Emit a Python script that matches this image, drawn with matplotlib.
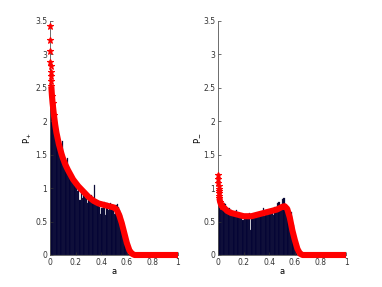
import numpy as np
import matplotlib
matplotlib.use("Agg")
import matplotlib.pyplot as plt

# histogram heights, bins of width 0.01 starting at a=0
bin_width = 0.01
hist_plus = [2.87, 2.30, 2.25, 2.05, 1.85, 1.75, 1.60, 1.62, 1.55, 1.70,
             1.45, 1.40, 1.30, 1.45, 1.25, 1.20, 1.15, 1.12, 1.08, 1.10,
             1.05, 0.95, 1.05, 0.82, 1.00, 0.85, 0.95, 0.85, 0.90, 0.78,
             0.85, 0.80, 0.90, 0.78, 1.05, 0.80, 0.75, 0.78, 0.72, 0.62,
             0.70, 0.78, 0.80, 0.60, 0.78, 0.68, 0.70, 0.78, 0.72, 0.75,
             0.62, 0.75, 0.77, 0.72, 0.68, 0.60, 0.45, 0.30, 0.18, 0.10,
             0.05, 0.02]
hist_minus = [0.80, 0.75, 0.74, 0.72, 0.78, 0.77, 0.68, 0.65, 0.70, 0.60,
              0.68, 0.63, 0.58, 0.66, 0.67, 0.62, 0.55, 0.60, 0.57, 0.52,
              0.58, 0.55, 0.60, 0.62, 0.63, 0.38, 0.60, 0.58, 0.62, 0.56,
              0.58, 0.60, 0.62, 0.63, 0.60, 0.70, 0.58, 0.68, 0.60, 0.66,
              0.62, 0.65, 0.68, 0.60, 0.72, 0.68, 0.78, 0.80, 0.72, 0.70,
              0.84, 0.85, 0.70, 0.72, 0.68, 0.65, 0.60, 0.64, 0.45, 0.28,
              0.12, 0.03]

# theoretical curves
curve_a = [0.0, 0.001, 0.002, 0.003, 0.004, 0.005, 0.006, 0.008, 0.01, 0.015,
           0.02, 0.03, 0.04, 0.05, 0.06, 0.07, 0.08, 0.09, 0.10, 0.12,
           0.14, 0.16, 0.18, 0.20, 0.22, 0.24, 0.26, 0.28, 0.30, 0.32,
           0.34, 0.36, 0.38, 0.40, 0.42, 0.44, 0.46, 0.48, 0.50, 0.52,
           0.54, 0.56, 0.58, 0.60, 0.62, 0.64, 0.66, 0.70, 0.75, 0.80,
           0.85, 0.90, 0.95, 1.0]
curve_plus = [3.43, 3.22, 3.05, 2.89, 2.82, 2.74, 2.67, 2.60, 2.52, 2.38,
              2.27, 2.10, 1.95, 1.83, 1.74, 1.65, 1.58, 1.51, 1.45, 1.35,
              1.27, 1.20, 1.13, 1.08, 1.03, 0.99, 0.95, 0.91, 0.87, 0.84,
              0.81, 0.79, 0.77, 0.76, 0.75, 0.74, 0.73, 0.72, 0.71, 0.68,
              0.60, 0.48, 0.33, 0.18, 0.07, 0.02, 0.0, 0.0, 0.0, 0.0,
              0.0, 0.0, 0.0, 0.0]
curve_minus = [1.20, 1.14, 1.08, 1.03, 0.99, 0.95, 0.92, 0.88, 0.85, 0.80,
               0.77, 0.73, 0.71, 0.70, 0.68, 0.66, 0.65, 0.64, 0.63, 0.62,
               0.61, 0.60, 0.59, 0.58, 0.58, 0.58, 0.58, 0.59, 0.60, 0.61,
               0.62, 0.63, 0.64, 0.65, 0.66, 0.67, 0.68, 0.70, 0.72, 0.73,
               0.69, 0.56, 0.37, 0.22, 0.09, 0.02, 0.0, 0.0, 0.0, 0.0,
               0.0, 0.0, 0.0, 0.0]

xticks = [0, 0.2, 0.4, 0.6, 0.8, 1]
yticks = [0, 0.5, 1, 1.5, 2, 2.5, 3, 3.5]

fig = plt.figure(figsize=(3.82, 2.87), dpi=100)
ax1 = fig.add_axes([0.131, 0.1115, 0.335, 0.8155])
ax2 = fig.add_axes([0.571, 0.1115, 0.335, 0.8155])

for ax, h, c, lab in [(ax1, hist_plus, curve_plus, r'$\mathregular{P_{+}}$'),
                      (ax2, hist_minus, curve_minus, r'$\mathregular{P_{-}}$')]:
    left = np.arange(len(h)) * bin_width
    ax.bar(left, h, width=bin_width, align='edge', color='#000033',
           edgecolor='#2a2a48', linewidth=0.2)
    # the dense part of the curve reads as a thick band
    ax.plot(curve_a[8:], c[8:], '-', color='red', lw=4.4, clip_on=False,
            zorder=3, solid_capstyle='butt')
    ax.plot(curve_a[:12], c[:12], '*', color='red', ms=4.5, mew=0.8,
            clip_on=False, zorder=4)
    ax.set_xlim(0, 1)
    ax.set_ylim(0, 3.5)
    ax.set_xticks(xticks)
    ax.set_xticklabels(['0', '0.2', '0.4', '0.6', '0.8', '1'])
    ax.set_yticks(yticks)
    ax.set_yticklabels(['0', '0.5', '1', '1.5', '2', '2.5', '3', '3.5'])
    ax.tick_params(direction='in', length=2, width=0.5, labelsize=5.5,
                   colors='#333333', pad=2)
    for s in ['top', 'right']:
        ax.spines[s].set_visible(False)
    for s in ['left', 'bottom']:
        ax.spines[s].set_linewidth(0.6)
        ax.spines[s].set_color('#555555')
    ax.set_xlabel('a', fontsize=6, labelpad=0)
    ax.set_ylabel(lab, fontsize=6, labelpad=1)

plt.savefig('out.png', dpi=100)
